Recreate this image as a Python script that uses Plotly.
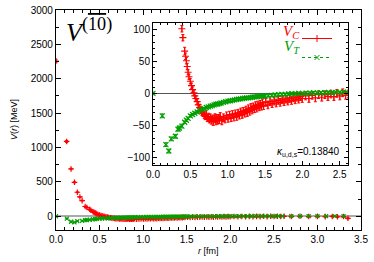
import plotly.graph_objects as go

# ---- data ----
r_c = [0.000, 0.122, 0.173, 0.212, 0.245, 0.274, 0.300, 0.335, 0.354, 0.387, 0.400, 0.424, 0.436, 0.447,
       0.458, 0.470, 0.482, 0.500, 0.516, 0.530, 0.548, 0.560, 0.574, 0.592, 0.606, 0.624, 0.640, 0.655,
       0.671, 0.686, 0.700, 0.714, 0.728, 0.742, 0.755, 0.768, 0.781, 0.794, 0.806, 0.819, 0.831, 0.843,
       0.855, 0.866, 0.878, 0.889, 0.900, 0.922, 0.943, 0.964, 0.985, 1.005, 1.025, 1.045, 1.064, 1.083,
       1.102, 1.121, 1.139, 1.157, 1.175, 1.193, 1.210, 1.228, 1.245, 1.262, 1.278, 1.295, 1.311, 1.327,
       1.343, 1.359, 1.375, 1.390, 1.406, 1.421, 1.436, 1.451, 1.466, 1.481, 1.510, 1.539, 1.567, 1.595,
       1.623, 1.650, 1.677, 1.703, 1.730, 1.755, 1.781, 1.806, 1.831, 1.855, 1.880, 1.904, 1.928, 1.951,
       1.975, 1.998, 2.043, 2.088, 2.132, 2.175, 2.218, 2.260, 2.302, 2.343, 2.383, 2.423, 2.463, 2.502,
       2.541, 2.579, 2.617, 2.700, 2.800, 2.900, 3.000, 3.090, 3.170, 3.230, 3.300, 3.350]
v_c = [2258, 1088, 688, 494, 349, 281, 228, 142, 127, 101, 87, 66, 58, 51,
       42, 33, 26, 19, 12, 6, 1, -4, -8, -13, -18, -22, -26, -29,
       -31, -34, -36, -33, -39, -37, -41, -38, -42, -39, -44, -40, -37, -43,
       -39, -42, -38, -41, -36, -43, -38, -40, -35, -39, -34, -38, -33, -37,
       -32, -36, -31, -34, -29, -33, -28, -31, -26, -30, -24, -28, -22, -26,
       -21, -24, -19, -23, -18, -21, -17, -20, -15, -19, -14, -18, -13, -16,
       -12, -15, -11, -14, -10, -13, -9, -12, -8, -11, -7, -10, -6, -9,
       -5, -8, -4, -8, -3, -7, -2, -6, -2, -5, -1, -5, 0, -4,
       1, -3, -1, -3, -1, -4, -2, -6, -3, -8, -4, -30]
e_c = [25, 15, 10, 8, 6, 6, 5, 5, 5, 5, 5, 6, 5, 5,
       5, 4, 4, 4, 4, 4, 4, 4, 4, 4, 5, 5, 5, 5,
       5, 5, 5, 6, 5, 6, 5, 6, 6, 5, 6, 6, 5, 6,
       6, 6, 5, 6, 6, 6, 6, 6, 6, 6, 6, 6, 6, 6,
       6, 6, 6, 6, 6, 6, 6, 6, 6, 6, 6, 6, 6, 6,
       6, 6, 6, 6, 6, 6, 6, 6, 6, 6, 6, 6, 6, 6,
       6, 6, 6, 6, 6, 6, 6, 6, 6, 6, 6, 6, 6, 6,
       6, 6, 6, 6, 6, 6, 6, 6, 6, 6, 6, 6, 6, 6,
       6, 6, 6, 6, 6, 6, 6, 7, 7, 8, 8, 10]

r_t = [0.000, 0.125, 0.173, 0.212, 0.245, 0.300, 0.335, 0.354, 0.387, 0.424, 0.447, 0.470, 0.500, 0.530,
       0.560, 0.592, 0.624, 0.655, 0.686, 0.714, 0.742, 0.768, 0.794, 0.819, 0.843, 0.866, 0.889, 0.911,
       0.943, 0.975, 1.005, 1.035, 1.064, 1.093, 1.121, 1.148, 1.175, 1.202, 1.228, 1.254, 1.280, 1.305,
       1.330, 1.355, 1.380, 1.404, 1.428, 1.452, 1.476, 1.500, 1.545, 1.590, 1.635, 1.680, 1.725, 1.770,
       1.815, 1.860, 1.905, 1.950, 2.000, 2.050, 2.100, 2.150, 2.200, 2.250, 2.300, 2.350, 2.400, 2.450,
       2.500, 2.550, 2.600, 2.700, 2.800, 2.900, 3.000, 3.100, 3.200, 3.300]
v_t = [0, -35, -80, -90, -71, -67, -56, -54, -51, -45, -42, -39, -35, -33,
       -31, -29, -27, -25, -24, -22, -21, -20, -19, -18, -17, -16.5, -16, -15,
       -14, -13, -12, -11.5, -11, -10, -9.5, -9, -8.5, -8, -7.5, -7, -7, -6.5,
       -6, -5.5, -5.5, -5, -4.5, -4.5, -4, -4, -3.5, -3, -2.5, -2, -1.5, -1.5,
       -1, -0.5, -0.5, 0, 0, 0.5, 0.5, 1, 0.5, 1, 1, 1.5, 1, 1.5,
       1.5, 2, 1.5, 1.5, 2, 1.5, 2, 1, 2, 1]
e_t = [2, 3, 3, 3, 3, 3, 3, 3, 3, 2, 2, 2, 2, 2,
       2, 2, 2, 2, 2, 2, 2, 2, 2, 2, 2, 2, 2, 2,
       2, 2, 2, 2, 2, 2, 2, 2, 2, 2, 2, 2, 2, 2,
       2, 2, 2, 2, 2, 2, 2, 2, 2, 2, 2, 2, 2, 2,
       2, 2, 2, 2, 2, 2, 2, 2, 2, 2, 2, 2, 2, 2,
       2, 2, 2, 2, 2, 2, 3, 3, 3, 3]

RED = "#ff0000"
GREEN = "#00a000"
FONT = "Liberation Sans, Arial, sans-serif"
SERIF = "Liberation Serif, DejaVu Serif, serif"

fig = go.Figure()

for xa, ya, ms in (("x", "y", 4), ("x2", "y2", 5)):
    fig.add_trace(go.Scatter(
        x=r_c, y=v_c, mode="markers", xaxis=xa, yaxis=ya, showlegend=False,
        marker=dict(symbol="cross-thin", size=ms, color=RED, line=dict(color=RED, width=1.2)),
        error_y=dict(type="data", array=e_c, color=RED, thickness=1, width=1.5)))
    fig.add_trace(go.Scatter(
        x=r_t, y=v_t, mode="markers", xaxis=xa, yaxis=ya, showlegend=False,
        marker=dict(symbol="x-thin", size=ms, color=GREEN, line=dict(color=GREEN, width=1.2)),
        error_y=dict(type="data", array=e_t, color=GREEN, thickness=1, width=1.5)))

# legend samples (no data)
fig.add_trace(go.Scatter(x=[None], y=[None], xaxis="x2", yaxis="y2", mode="lines+markers", name="",
                         line=dict(color=RED, width=1),
                         marker=dict(symbol="cross-thin", size=5, color=RED, line=dict(color=RED, width=1))))
fig.add_trace(go.Scatter(x=[None], y=[None], xaxis="x2", yaxis="y2", mode="lines+markers", name="",
                         line=dict(color=GREEN, width=1, dash="dot"),
                         marker=dict(symbol="x-thin", size=5, color=GREEN, line=dict(color=GREEN, width=1))))

ax_common = dict(showline=True, linecolor="black", mirror="allticks", ticks="inside",
                 tickcolor="black", showgrid=False,
                 tickfont=dict(family=FONT, size=10, color="black"))

inset_x = [0.318, 0.957]
inset_y = [0.295, 0.941]

fig.update_layout(
    width=374, height=262,
    margin=dict(l=56, r=13, t=10, b=32),
    paper_bgcolor="white", plot_bgcolor="white",
    xaxis=dict(range=[0, 3.5], dtick=0.5, tickformat=".1f", ticklen=5, linewidth=1.2,
               minor=dict(dtick=0.1, ticks="inside", ticklen=2.5, tickcolor="black"),
               zeroline=False, automargin=False, **ax_common),
    yaxis=dict(range=[-200, 3000], dtick=500, ticklen=5, linewidth=1.2,
               minor=dict(dtick=250, ticks="inside", ticklen=2.5, tickcolor="black"),
               zeroline=True, zerolinecolor="#aaaaaa", zerolinewidth=2, automargin=False, **ax_common),
    xaxis2=dict(domain=inset_x, anchor="y2", range=[0, 2.61], dtick=0.5, tickformat=".1f", ticklen=4,
                linewidth=1,
                minor=dict(dtick=0.1, ticks="inside", ticklen=2, tickcolor="black"),
                zeroline=False, automargin=False, **ax_common),
    yaxis2=dict(domain=inset_y, anchor="x2", range=[-112, 110], dtick=50, ticklen=4, linewidth=1,
                minor=dict(dtick=10, ticks="inside", ticklen=2, tickcolor="black"),
                zeroline=True, zerolinecolor="#555555", zerolinewidth=1, automargin=False, **ax_common),
    legend=dict(x=(297 - 56) / 305, y=(230 - 24) / 220, xanchor="left", yanchor="top",
                bgcolor="rgba(0,0,0,0)",
                font=dict(size=11), tracegroupgap=0, itemwidth=30),
)

anns = [
    dict(text="<i>V</i><sup>(<span style='text-decoration:overline'>10</span>)</sup>",
         xref="paper", yref="paper", x=(64 - 56) / 305, y=(230 - 12) / 220,
         xanchor="left", yanchor="top", showarrow=False,
         font=dict(family=SERIF, size=26, color="black")),
    dict(text="<i>V<sub>C</sub></i>", xref="paper", yref="paper", x=(302 - 56) / 305, y=(230 - 32) / 220,
         xanchor="right", yanchor="middle", showarrow=False,
         font=dict(family=SERIF, size=15, color=RED)),
    dict(text="<i>V<sub>T</sub></i>", xref="paper", yref="paper", x=(302 - 56) / 305, y=(230 - 47) / 220,
         xanchor="right", yanchor="middle", showarrow=False,
         font=dict(family=SERIF, size=15, color=GREEN)),
    dict(text="<i>κ</i><sub>u,d,s</sub>=0.13840", xref="paper", yref="paper",
         x=(342 - 56) / 305, y=(230 - 160) / 220, xanchor="right", yanchor="bottom", showarrow=False,
         font=dict(family=FONT, size=10, color="black")),
    dict(text="<i>V</i>(<i>r</i>) [MeV]", xref="paper", yref="paper", x=-42 / 305, y=0.5,
         xanchor="center", yanchor="middle", textangle=-90, showarrow=False,
         font=dict(family=FONT, size=9, color="black")),
    dict(text="<i>r</i> [fm]", xref="paper", yref="paper", x=0.5, y=-(251 - 230) / 220,
         xanchor="center", yanchor="middle", showarrow=False,
         font=dict(family=FONT, size=9, color="black")),
]
fig.update_layout(annotations=anns)

fig.write_html("out.html", config={"displayModeBar": False},
               post_script="document.body.style.margin='0';")
